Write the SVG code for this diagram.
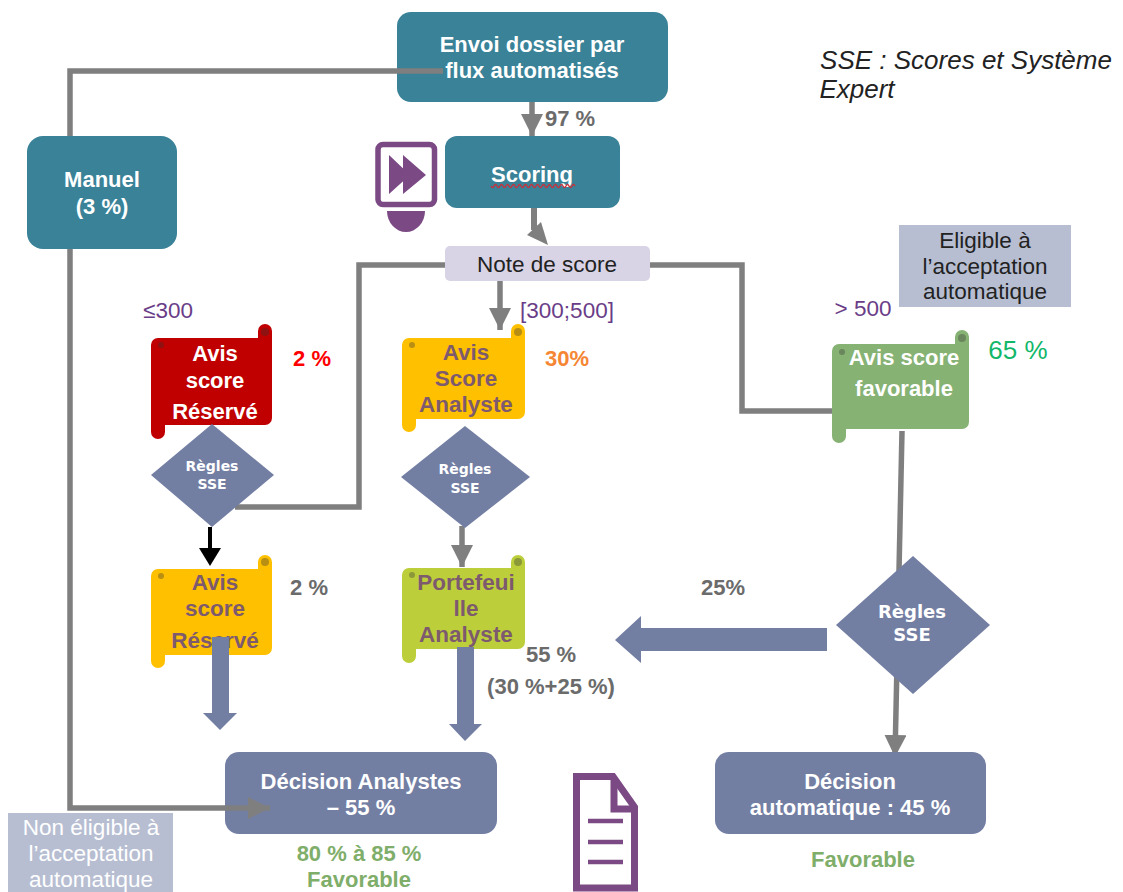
<svg xmlns="http://www.w3.org/2000/svg" width="1123" height="892" viewBox="0 0 1123 892">
<defs>
<marker id="g" markerUnits="userSpaceOnUse" markerWidth="24" markerHeight="22" refX="22" refY="11" orient="auto"><path d="M0,0 L22,11 L0,22 Z" fill="#7f7f7f"/></marker>
</defs>
<style>
text{font-family:"Liberation Sans",Arial,sans-serif;text-anchor:middle}
.w{fill:#fff;font-weight:bold;font-size:22px}
.s{fill:#fff;font-weight:bold;font-size:14px;font-family:"DejaVu Sans",sans-serif}
.d{fill:#7d5a6e;font-weight:bold;font-size:22.500px}
.p{fill:#6a3d88;font-size:22.500px}
.k{fill:#222;font-size:22.500px}
.n{fill:#fff;font-size:22.500px}
.g{fill:#6b6b6b;font-weight:bold;font-size:22px}
.l{fill:#7fae6a;font-weight:bold;font-size:22px}
.i{fill:#222;font-size:26px;font-style:italic}
.c{fill:none;stroke:#7f7f7f;stroke-width:5.500}
.teal{fill:#398298}
.slate{fill:#737ea3}
.curl{opacity:.35;fill:#333}
.ic{fill:#7b4a84}
.is{fill:none;stroke:#7b4a84}
</style>
<g id="envoi"><rect class="teal" x="397" y="12" width="271" height="90" rx="14"/><text class="w" x="532" y="52">Envoi dossier par</text><text class="w" x="532" y="78">flux automatisés</text></g>
<g id="decision-analystes"><rect class="slate" x="225" y="752" width="272" height="82" rx="14"/><text class="w" x="361" y="789">Décision Analystes</text><text class="w" x="361" y="815">– 55 %</text></g>
<g id="avis-reserve-2">
<path d="M158,569 H258 V562 a7,7 0 0 1 14,0 V648 a7,7 0 0 1 -7,7 H165 V661 a7,7 0 0 1 -14,0 V576 a7,7 0 0 1 7,-7 Z" fill="#ffc000"/>
<circle class="curl" cx="265" cy="562" r="4"/><circle class="curl" cx="161" cy="576" r="3"/>
<text class="d" x="215" y="590">Avis</text><text class="d" x="215" y="616">score</text><text class="d" x="215" y="648">Réservé</text></g>
<g id="portefeuille">
<path d="M409,568 H511 V562 a7,7 0 0 1 14,0 V642 a7,7 0 0 1 -7,7 H416 V656 a7,7 0 0 1 -14,0 V575 a7,7 0 0 1 7,-7 Z" fill="#bccf3b"/>
<circle class="curl" cx="518" cy="562" r="4"/><circle class="curl" cx="412" cy="575" r="3"/>
<text class="d" x="466" y="590">Portefeui</text><text class="d" x="466" y="616">lle</text><text class="d" x="466" y="642">Analyste</text></g>
<g id="connectors">
<path class="c" d="M443,71 H70 V808 H270" marker-end="url(#g)"/>
<path class="c" d="M532,102 V136" marker-end="url(#g)"/>
<path class="c" d="M534,208 V230" style="stroke-width:6"/>
<path d="M527,235 L541,222 L548,245 Z" fill="#7f7f7f"/>
<path class="c" d="M445,265 H359 V507 H235"/>
<path class="c" d="M500,281 V330" marker-end="url(#g)"/>
<path class="c" d="M650,265 H742 V411 H832"/>
<path class="c" d="M902,431 L895,757" marker-end="url(#g)"/>
<path class="c" d="M462,526 V567" marker-end="url(#g)"/>
<path d="M210,527 V552" fill="none" stroke="#000" stroke-width="4"/>
<path d="M199,548 H221 L210,566 Z" fill="#000"/>
<path class="slate" d="M212,637 H229 V713 H237 L220,730 L203,713 H212 Z"/>
<path class="slate" d="M457,647 H474 V724 H482 L465,741 L449,724 H457 Z"/>
<path class="slate" d="M827,628 V651 H641 V663 L615,640 L641,616 V628 Z"/>
</g>
<g id="manuel"><rect class="teal" x="27" y="136" width="150" height="113" rx="16"/><text class="w" x="102" y="187">Manuel</text><text class="w" x="102" y="214">(3 %)</text></g>
<g id="scoring"><rect class="teal" x="445" y="136" width="175" height="72" rx="12"/><text class="w" x="532" y="182">Scoring</text><path d="M491,186 q1.500,3 3,0 t3,0 t3,0 t3,0 t3,0 t3,0 t3,0 t3,0 t3,0 t3,0 t3,0 t3,0 t3,0 t3,0 t3,0 t3,0 t3,0 t3,0 t3,0 t3,0 t3,0 t3,0 t3,0 t3,0 t3,0 t3,0 t3,0 t3,0" fill="none" stroke="#c8323c" stroke-width="1.300"/></g>
<g id="play-icon"><rect class="is" x="378" y="144.500" width="56.500" height="60" rx="5" stroke-width="5.500"/><path class="ic" d="M389,155 L410,175 L389,194 Z M403,155 L426,175 L403,194 Z"/><path class="ic" d="M387,211 H425 A19,21 0 0 1 387,211 Z"/></g>
<g id="note"><rect x="445" y="246" width="205" height="35" rx="5" fill="#d8d4e6"/><text class="k" x="547" y="272">Note de score</text></g>
<g id="eligible"><rect x="899" y="225" width="172" height="82" fill="#b7bed2"/><text class="k" x="985" y="248">Eligible à</text><text class="k" x="985" y="274">l’acceptation</text><text class="k" x="985" y="299">automatique</text></g>
<g id="avis-reserve">
<path d="M158,338 H258 V331 a7,7 0 0 1 14,0 V418 a7,7 0 0 1 -7,7 H165 V432 a7,7 0 0 1 -14,0 V345 a7,7 0 0 1 7,-7 Z" fill="#c00000"/>
<circle class="curl" cx="265" cy="332" r="4"/><circle class="curl" cx="161" cy="345" r="3"/>
<text class="w" x="215" y="361">Avis</text><text class="w" x="215" y="388">score</text><text class="w" x="215" y="419">Réservé</text></g>
<g id="avis-analyste">
<path d="M409,338 H511 V331 a7,7 0 0 1 14,0 V412 a7,7 0 0 1 -7,7 H416 V425 a7,7 0 0 1 -14,0 V345 a7,7 0 0 1 7,-7 Z" fill="#ffc000"/>
<circle class="curl" cx="518" cy="332" r="4"/><circle class="curl" cx="412" cy="345" r="3"/>
<text class="d" x="466" y="360">Avis</text><text class="d" x="466" y="386">Score</text><text class="d" x="466" y="412">Analyste</text></g>
<g id="avis-favorable">
<path d="M839,344 H955 V337 a7,7 0 0 1 14,0 V422 a7,7 0 0 1 -7,7 H846 V436 a7,7 0 0 1 -14,0 V351 a7,7 0 0 1 7,-7 Z" fill="#86b274"/>
<circle class="curl" cx="962" cy="338" r="4"/><circle class="curl" cx="842" cy="352" r="3"/>
<text class="w" x="904" y="365">Avis score</text><text class="w" x="904" y="396">favorable</text></g>
<g id="regles-1"><path class="slate" d="M212,424 L274,475 L212,527 L151,475 Z"/><text class="s" x="212" y="471">Règles</text><text class="s" x="212" y="489">SSE</text></g>
<g id="regles-2"><path class="slate" d="M465,426 L530,477 L465,528 L401,477 Z"/><text class="s" x="465" y="474">Règles</text><text class="s" x="465" y="493">SSE</text></g>
<g id="regles-3"><path class="slate" d="M913,556 L990,625 L913,694 L836,625 Z"/><text class="s" x="912" y="618" style="font-size:18px">Règles</text><text class="s" x="912" y="641" style="font-size:18px">SSE</text></g>
<g id="decision-auto"><rect class="slate" x="715" y="752" width="271" height="82" rx="14"/><text class="w" x="850" y="789">Décision</text><text class="w" x="850" y="815">automatique : 45 %</text></g>
<g id="non-eligible"><rect x="8" y="813" width="165" height="79" fill="#b7bed2"/><text class="n" x="91" y="835">Non éligible à</text><text class="n" x="91" y="861">l’acceptation</text><text class="n" x="91" y="887">automatique</text></g>
<g id="doc-icon"><path class="is" d="M576.500,776.500 H613 L634.500,807 V888 H576.500 Z" stroke-width="7"/><path class="is" d="M614,778 V809 H634" stroke-width="7"/><path class="is" d="M588,821 H623 M588,842 H623 M588,862 H623" stroke-width="4.500"/></g>
<g id="labels">
<text class="i" x="966" y="69">SSE : Scores et Système</text>
<text class="i" x="857" y="98">Expert</text>
<text class="g" x="570" y="126">97 %</text>
<text class="p" x="168" y="318">≤300</text>
<text class="p" x="567" y="318">[300;500]</text>
<text class="p" x="863" y="316">&gt; 500</text>
<text x="312" y="366" style="fill:#ff0000;font-weight:bold;font-size:22px">2 %</text>
<text x="567" y="366" style="fill:#f58634;font-weight:bold;font-size:22px">30%</text>
<text x="1018" y="359" style="fill:#12b76a;font-size:26px">65 %</text>
<text class="g" x="309" y="595">2 %</text>
<text class="g" x="723" y="595">25%</text>
<text class="g" x="551" y="662">55 %</text>
<text class="g" x="551" y="694">(30 %+25 %)</text>
<text class="l" x="359" y="861">80 % à 85 %</text>
<text class="l" x="359" y="887">Favorable</text>
<text class="l" x="863" y="867">Favorable</text>
</g>
</svg>
